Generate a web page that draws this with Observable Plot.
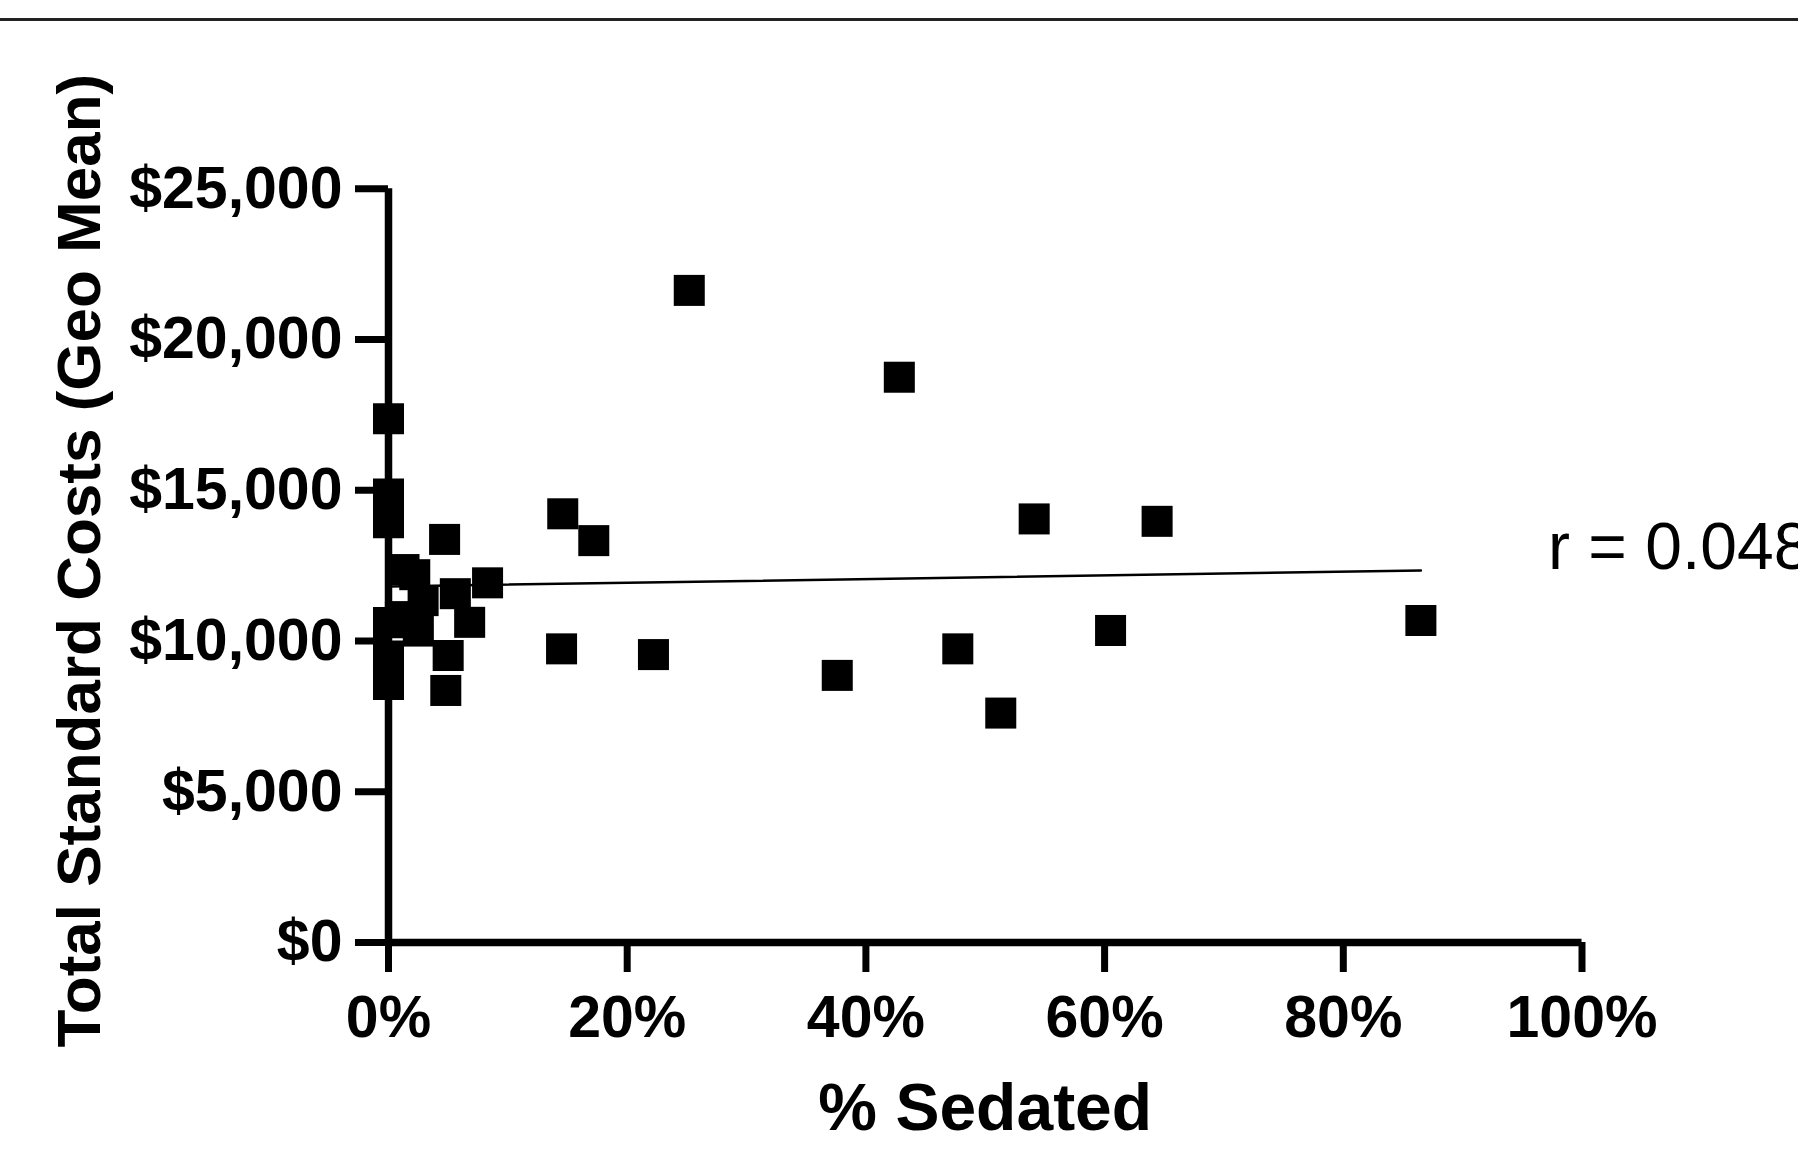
<!DOCTYPE html>
<html>
<head>
<meta charset="utf-8">
<script src="https://cdn.jsdelivr.net/npm/d3@7"></script>
<script src="https://cdn.jsdelivr.net/npm/@observablehq/plot@0.6"></script>
<style>
  html, body { margin: 0; padding: 0; background: #fff; overflow: hidden; }
  #wrap { position: relative; width: 1798px; height: 1172px; }
  #topline { position: absolute; left: 0; top: 18px; width: 1798px; height: 3px; background: #222; }
  svg { display: block; overflow: hidden; }
</style>
</head>
<body>
<div id="wrap"><div id="chart"></div><div id="topline"></div></div>
<script>
// % of patients sedated (x) and total standard costs, geometric mean in $ (y)
const sedatedPct = [
  0, 0, 0, 0, 0, 0,
  4.7, 1.3, 2.2, 8.3, 5.6, 2.9, 1.0, 6.8, 2.5, 5.0, 4.8,
  25.2, 42.8, 14.6, 17.2, 54.1, 64.4, 14.5, 22.2, 37.6, 47.7, 51.3, 60.5, 86.5
];
const costGeoMean = [
  17370, 14880, 13920, 10610, 9500, 8560,
  13370, 12370, 12200, 11930, 11570, 11340, 10810, 10620, 10330, 9520, 8360,
  21630, 18750, 14220, 13330, 14050, 13970, 9740, 9550, 8860, 9740, 7610, 10350, 10680
];
// fitted regression line end points
const fitX = [0, 86.5];
const fitY = [11810, 12340];
const xTicks = [0, 20, 40, 60, 80, 100];
const yTicks = [0, 5000, 10000, 15000, 20000, 25000];
const xTitle = "% Sedated";
const yTitle = "Total Standard Costs (Geo Mean)";
const rLabel = "r = 0.048";

const points = sedatedPct.map((x, i) => ({x, y: costGeoMean[i]}));
const fit = fitX.map((x, i) => ({x, y: fitY[i]}));
const dollars = d3.format(",");

const chart = Plot.plot({
  width: 1798,
  height: 1172,
  marginLeft: 388,
  marginRight: 216.5,
  marginTop: 188.3,
  marginBottom: 230,
  x: {domain: [0, 100]},
  y: {domain: [0, 25000]},
  style: {fontFamily: "'Liberation Sans', Arial, sans-serif", background: "white", color: "black"},
  marks: [
    Plot.ruleX([0], {y1: 0, y2: 25000, strokeWidth: 7.5, stroke: "black"}),
    Plot.ruleY([0], {x1: 0, x2: 100, strokeWidth: 7.5, stroke: "black"}),
    Plot.axisX(xTicks, {tickSize: 30, tickPadding: 23, fontSize: 59, fontWeight: "bold", strokeWidth: 7, tickFormat: d => d + "%", label: null}),
    Plot.axisY(yTicks, {tickSize: 33, tickPadding: 13, fontSize: 59, fontWeight: "bold", strokeWidth: 7, tickFormat: d => "$" + dollars(d), label: null}),
    Plot.line(fit, {x: "x", y: "y", stroke: "black", strokeWidth: 2.5}),
    Plot.dot(points, {x: "x", y: "y", symbol: "square", r: 17.5, fill: "black", stroke: "none"}),
    Plot.text([xTitle], {text: d => d, frameAnchor: "bottom", textAnchor: "middle", dy: 187, lineAnchor: "bottom", fontSize: 66, fontWeight: "bold"}),
    Plot.text([yTitle], {text: d => d, frameAnchor: "left", textAnchor: "middle", rotate: -90, dx: -289, dy: -5, lineAnchor: "bottom", fontSize: 62, fontWeight: "bold"}),
    Plot.text([rLabel], {text: d => d, frameAnchor: "right", dx: -34, dy: 3, textAnchor: "start", lineAnchor: "bottom", fontSize: 66})
  ]
});
document.getElementById("chart").appendChild(chart);
</script>
</body>
</html>
